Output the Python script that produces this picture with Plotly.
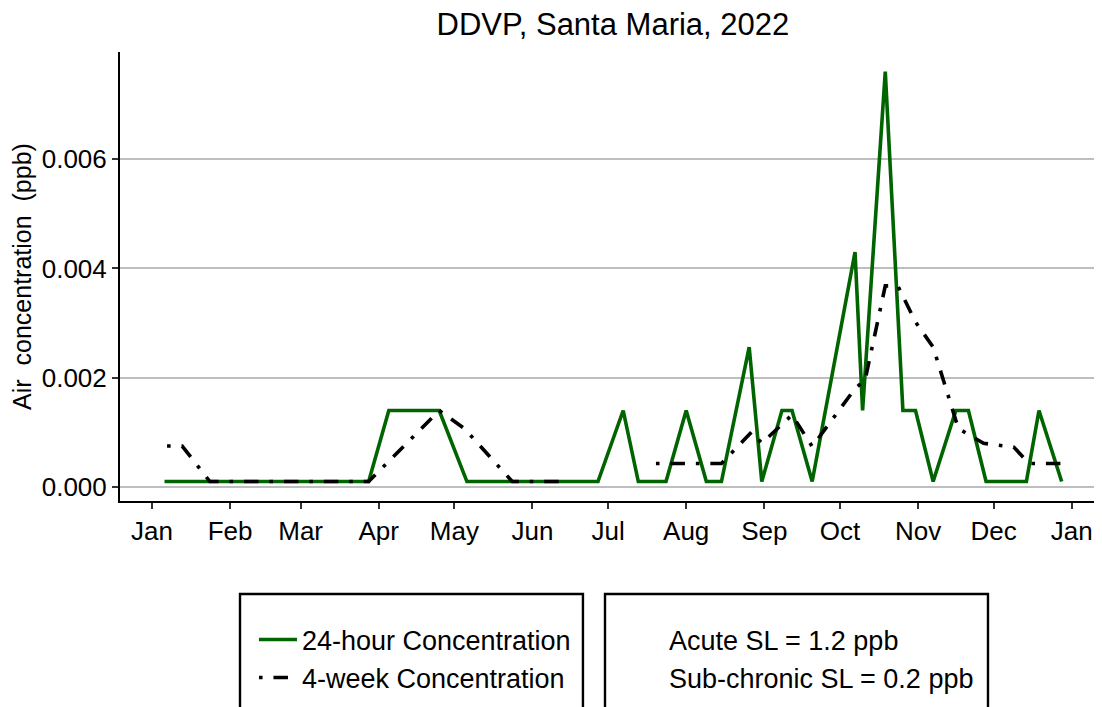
import plotly.graph_objects as go

# ---- data ----
dates_24h = ["2022-01-06", "2022-03-28", "2022-04-05", "2022-04-25", "2022-05-06",
             "2022-06-27", "2022-07-07", "2022-07-13", "2022-07-24", "2022-08-01",
             "2022-08-09", "2022-08-15", "2022-08-26", "2022-08-31", "2022-09-08",
             "2022-09-12", "2022-09-20", "2022-10-07", "2022-10-10", "2022-10-19",
             "2022-10-26", "2022-10-31", "2022-11-07", "2022-11-16", "2022-11-21",
             "2022-11-28", "2022-12-14", "2022-12-19", "2022-12-28"]
conc_24h = [0.0001, 0.0001, 0.0014, 0.0014, 0.0001,
            0.0001, 0.0014, 0.0001, 0.0001, 0.0014,
            0.0001, 0.0001, 0.00256, 0.0001, 0.0014,
            0.0014, 0.0001, 0.0043, 0.0014, 0.0076,
            0.0014, 0.0014, 0.0001, 0.0014, 0.0014,
            0.0001, 0.0001, 0.0014, 0.0001]

dates_4wk = ["2022-01-07", "2022-01-13", "2022-01-24", "2022-03-28", "2022-04-25",
             "2022-05-05", "2022-05-24", "2022-06-12", "2022-07-01", "2022-07-20",
             "2022-08-15", "2022-08-27", "2022-08-31", "2022-09-12", "2022-09-20",
             "2022-10-07", "2022-10-11", "2022-10-19", "2022-10-24", "2022-10-31",
             "2022-11-07", "2022-11-17", "2022-11-27", "2022-12-09", "2022-12-15",
             "2022-12-28"]
conc_4wk = [0.00075, 0.00075, 0.0001, 0.0001, 0.0014,
            0.00107, 0.0001, 0.0001, None, 0.00043,
            0.00043, 0.00101, 0.0008, 0.00132, 0.00074,
            0.0018, 0.00196, 0.00368, 0.00368, 0.00302,
            0.00256, 0.00107, 0.0008, 0.00073, 0.00043,
            0.00043]

acute_sl = 1.2
subchronic_sl = 0.2
sl_span = ["2022-01-01", "2022-12-31"]

month_ticks = ["2022-01-01", "2022-02-01", "2022-03-01", "2022-04-01", "2022-05-01",
               "2022-06-01", "2022-07-01", "2022-08-01", "2022-09-01", "2022-10-01",
               "2022-11-01", "2022-12-01", "2023-01-01"]
month_labels = ["Jan", "Feb", "Mar", "Apr", "May", "Jun", "Jul", "Aug", "Sep",
                "Oct", "Nov", "Dec", "Jan"]
y_ticks = [0.0, 0.002, 0.004, 0.006]

FONT = "Liberation Sans, Arial, sans-serif"

fig = go.Figure()
fig.add_trace(go.Scatter(
    x=dates_24h, y=conc_24h, mode="lines", name="24-hour Concentration",
    line=dict(color="#006400", width=3.6), legend="legend", legendgroup="a"))
fig.add_trace(go.Scatter(
    x=dates_4wk, y=conc_4wk, mode="lines", name="4-week Concentration",
    line=dict(color="black", width=3.6, dash="3.6px,10.9px,14.5px,10.9px"),
    connectgaps=False, legend="legend", legendgroup="b"))
fig.add_trace(go.Scatter(
    x=sl_span, y=[acute_sl, acute_sl], mode="lines", name="Acute SL = 1.2 ppb",
    line=dict(color="rgba(0,0,0,0)", width=2), legend="legend2", legendgroup="c",
    hoverinfo="skip"))
fig.add_trace(go.Scatter(
    x=sl_span, y=[subchronic_sl, subchronic_sl], mode="lines",
    name="Sub-chronic SL = 0.2 ppb",
    line=dict(color="rgba(0,0,0,0)", width=2), legend="legend2", legendgroup="d",
    hoverinfo="skip"))

legend_common = dict(
    bgcolor="rgba(0,0,0,0)", borderwidth=0,
    font=dict(family=FONT, size=27, color="black"),
    orientation="v", yanchor="top", xanchor="left",
    tracegroupgap=0, itemwidth=38, traceorder="grouped",
    title=dict(text="\u00a0", font=dict(size=18)),
)

LEG_TOP = -0.2027
fig.update_layout(
    width=1102, height=707,
    margin=dict(l=112, r=10, t=44, b=214, autoexpand=False),
    paper_bgcolor="white", plot_bgcolor="white",
    font=dict(family=FONT, size=26, color="black"),
    title=dict(text="DDVP, Santa Maria, 2022", x=0.503, xref="paper",
               y=1 - 16 / 707, yanchor="middle", xanchor="center",
               font=dict(family=FONT, size=31, color="black")),
    legend=dict(x=0.1367, y=LEG_TOP, **legend_common),
    legend2=dict(x=0.5112, y=LEG_TOP, **legend_common),
    showlegend=True,
    shapes=[
        dict(type="rect", xref="paper", yref="paper", x0=0.12245, x1=0.4724,
             y0=-0.2071, y1=-0.5056, line=dict(color="black", width=2.4),
             fillcolor="rgba(0,0,0,0)"),
        dict(type="rect", xref="paper", yref="paper", x0=0.4949, x1=0.8857,
             y0=-0.2071, y1=-0.5056, line=dict(color="black", width=2.4),
             fillcolor="rgba(0,0,0,0)"),
    ],
)

fig.update_xaxes(
    type="date", range=["2021-12-19 08:00", "2023-01-12 05:00"],
    tickvals=month_ticks, ticktext=month_labels, automargin=False,
    showgrid=False, zeroline=False,
    showline=True, linecolor="black", linewidth=2,
    ticks="outside", ticklen=6, tickwidth=2, tickcolor="#333333",
    tickfont=dict(family=FONT, size=26, color="black"),
)
fig.update_yaxes(
    range=[-0.000256, 0.00796], tickvals=y_ticks, tickformat=".3f",
    automargin=False,
    showgrid=True, gridcolor="#bebebe", gridwidth=2, zeroline=False,
    showline=True, linecolor="black", linewidth=2,
    ticks="outside", ticklen=6, tickwidth=2, tickcolor="#333333",
    tickfont=dict(family=FONT, size=26, color="black"),
    title=dict(text="Air\u00a0 concentration\u00a0 (ppb)", standoff=8,
               font=dict(family=FONT, size=25, color="black")),
)

fig.write_html("out.html")
